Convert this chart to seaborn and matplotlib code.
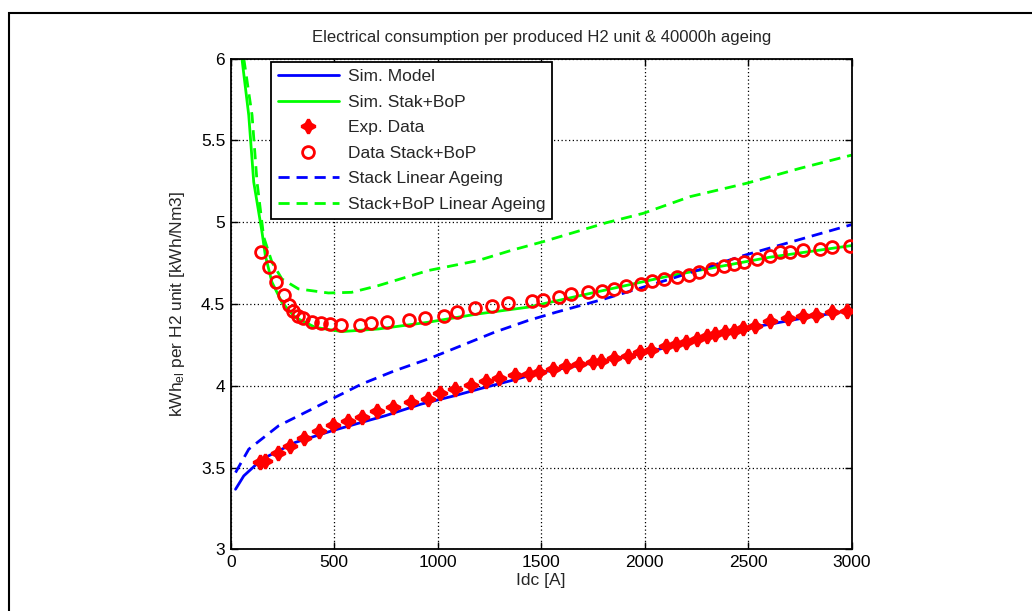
"""
Electrical consumption per produced H2 unit with 40000h ageing.
"""

import numpy as np
import pandas as pd
import matplotlib
matplotlib.use("Agg")
import matplotlib.pyplot as plt
from matplotlib.patches import Rectangle
import seaborn as sns

# --- data ---
sim_model_x = [23, 63, 151, 311, 488, 632, 745, 921, 1082, 1211, 1354, 1499,
               1750, 1996, 2250, 2478, 2750, 3000]
sim_model_y = [3.367, 3.449, 3.551, 3.653, 3.724, 3.776, 3.816, 3.888, 3.939, 3.984,
               4.031, 4.082, 4.140, 4.200, 4.280, 4.347, 4.410, 4.462]

sim_bop_x = [54, 87, 111, 151, 167, 199, 247, 311, 408, 536, 713, 953, 1194,
             1435, 1724, 2125, 2606, 3000]
sim_bop_y = [6.0, 5.653, 5.245, 4.939, 4.796, 4.633, 4.510, 4.418, 4.357, 4.331,
             4.347, 4.388, 4.439, 4.480, 4.561, 4.673, 4.786, 4.857]

exp_x = [143, 167, 228, 287, 356, 424, 496, 565, 632, 705, 785, 873, 953, 1010,
         1085, 1162, 1234, 1298, 1374, 1443, 1491, 1555, 1619, 1683, 1748, 1788,
         1852, 1920, 1977, 2032, 2101, 2149, 2197, 2253, 2301, 2341, 2390, 2430,
         2475, 2534, 2606, 2690, 2764, 2828, 2903, 2976]
exp_y = [3.531, 3.541, 3.588, 3.633, 3.678, 3.725, 3.759, 3.784, 3.810, 3.845,
         3.867, 3.898, 3.920, 3.953, 3.978, 4.004, 4.029, 4.045, 4.067, 4.071,
         4.082, 4.103, 4.122, 4.133, 4.143, 4.153, 4.168, 4.184, 4.204, 4.220,
         4.241, 4.255, 4.269, 4.286, 4.302, 4.316, 4.327, 4.337, 4.351, 4.367,
         4.396, 4.416, 4.424, 4.433, 4.449, 4.459]

data_bop_x = [146, 183, 218, 255, 279, 303, 327, 351, 391, 437, 480, 531, 624, 677,
              753, 862, 937, 1030, 1095, 1178, 1263, 1338, 1456, 1507, 1587, 1643,
              1724, 1796, 1852, 1908, 1984, 2037, 2093, 2157, 2213, 2261, 2326, 2382,
              2433, 2481, 2542, 2606, 2654, 2702, 2767, 2847, 2903, 2991]
data_bop_y = [4.820, 4.725, 4.636, 4.555, 4.494, 4.459, 4.429, 4.412, 4.392, 4.382,
              4.378, 4.371, 4.373, 4.382, 4.392, 4.404, 4.412, 4.429, 4.453, 4.474,
              4.490, 4.506, 4.516, 4.527, 4.541, 4.561, 4.571, 4.582, 4.592, 4.608,
              4.622, 4.639, 4.653, 4.663, 4.680, 4.698, 4.714, 4.731, 4.745, 4.759,
              4.776, 4.796, 4.816, 4.820, 4.827, 4.837, 4.847, 4.857]

stack_age_x = [23, 87, 231, 392, 504, 632, 793, 953, 1114, 1274, 1435, 1571,
               1804, 2125, 2478, 3000]
stack_age_y = [3.469, 3.612, 3.755, 3.857, 3.929, 4.010, 4.092, 4.163, 4.245, 4.327,
               4.398, 4.449, 4.530, 4.653, 4.796, 4.985]

bop_age_x = [63, 103, 127, 159, 199, 247, 327, 472, 584, 713, 953, 1194, 1354,
             1510, 1816, 1993, 2219, 2493, 2750, 3000]
bop_age_y = [6.0, 5.653, 5.245, 4.910, 4.755, 4.653, 4.592, 4.567, 4.571, 4.612,
             4.704, 4.765, 4.827, 4.881, 4.997, 5.054, 5.156, 5.238, 5.329, 5.410]

x_ticks = [0, 500, 1000, 1500, 2000, 2500, 3000]
y_ticks = [3, 3.5, 4, 4.5, 5, 5.5, 6]
y_tick_labels = ["3", "3.5", "4", "4.5", "5", "5.5", "6"]

BLUE = "#0000ff"
GREEN = "#00ff00"
RED = "#ff0000"


def main():
    sns.set_theme(style="white")
    plt.rcParams["font.family"] = ["Liberation Sans", "DejaVu Sans"]
    plt.rcParams["mathtext.default"] = "regular"

    fig = plt.figure(figsize=(10.32, 6.11), dpi=100)
    ax = fig.add_axes([0.2236, 0.1010, 0.6017, 0.8031])

    line_kw = dict(sort=False, estimator=None, ax=ax, linewidth=2)
    sns.lineplot(x=sim_model_x, y=sim_model_y, color=BLUE, label="Sim. Model", **line_kw)
    sns.lineplot(x=sim_bop_x, y=sim_bop_y, color=GREEN, label="Sim. Stak+BoP", **line_kw)
    # seaborn defaults marker edges to white, so set them red explicitly
    sns.lineplot(x=exp_x, y=exp_y, color=RED, linestyle="", marker=(4, 1, 0),
                 markersize=10, markeredgewidth=2.2, markeredgecolor=RED,
                 markerfacecolor=RED, label="Exp. Data", zorder=4,
                 sort=False, estimator=None, ax=ax)
    sns.lineplot(x=data_bop_x, y=data_bop_y, color=RED, linestyle="", marker="o",
                 markersize=8.5, markerfacecolor="none", markeredgecolor=RED,
                 markeredgewidth=2, label="Data Stack+BoP", zorder=4,
                 sort=False, estimator=None, ax=ax)
    sns.lineplot(x=stack_age_x, y=stack_age_y, color=BLUE, linestyle=(0, (4, 2.5)),
                 label="Stack Linear Ageing", **line_kw)
    sns.lineplot(x=bop_age_x, y=bop_age_y, color=GREEN, linestyle=(0, (4, 2.5)),
                 label="Stack+BoP Linear Ageing", **line_kw)

    ax.set_xlim(0, 3000)
    ax.set_ylim(3, 6)
    ax.set_xticks(x_ticks)
    ax.set_xticklabels([str(t) for t in x_ticks])
    ax.set_yticks(y_ticks)
    ax.set_yticklabels(y_tick_labels)
    ax.tick_params(direction="in", length=5, width=1, labelsize=12.5,
                   top=True, right=True, bottom=True, left=True, colors="black",
                   pad=4)
    ax.grid(True, color="black", linestyle=(0, (1, 2)), linewidth=0.9)
    for sp in ax.spines.values():
        sp.set_color("black")
        sp.set_linewidth(1.3)

    ax.set_title("Electrical consumption per produced H2 unit & 40000h ageing",
                 fontsize=12, pad=12)
    ax.set_xlabel("Idc [A]", fontsize=12.5, labelpad=2)
    ax.set_ylabel(r"kWh$_{el}$ per H2 unit [kWh/Nm3]", fontsize=12.5, labelpad=10)

    leg = ax.legend(loc="upper left", bbox_to_anchor=(0.065, 0.993), fontsize=12.5,
                    frameon=True, fancybox=False, framealpha=1, edgecolor="black",
                    handlelength=3.5, handletextpad=0.5, labelspacing=0.6,
                    borderpad=0.4, borderaxespad=0)
    leg.get_frame().set_linewidth(1.3)

    # outer frame
    fig.add_artist(Rectangle((0.0087, -0.05), 1.2, 0.9787 + 0.05,
                             transform=fig.transFigure, fill=False,
                             edgecolor="black", linewidth=1.5, clip_on=False))

    fig.savefig("out.png", dpi=100)
    plt.close(fig)


if __name__ == "__main__":
    main()
